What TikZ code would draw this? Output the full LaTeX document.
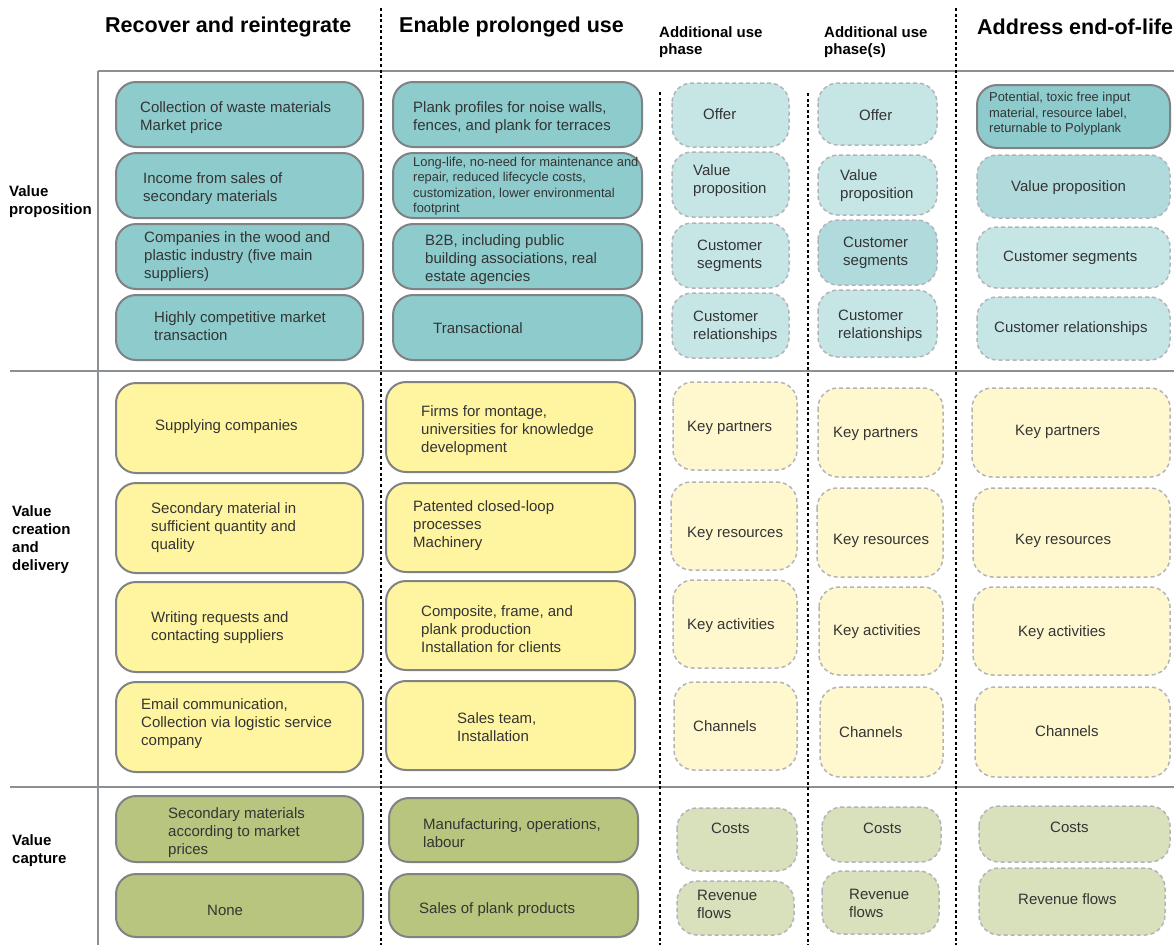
\documentclass[tikz,border=0pt]{standalone}
\usepackage{fontspec}
\setmainfont{Liberation Sans}
\definecolor{tealS}{RGB}{142,203,204}
\definecolor{tealM}{RGB}{176,218,220}
\definecolor{tealL}{RGB}{198,230,230}
\definecolor{yelS}{RGB}{255,245,160}
\definecolor{yelL}{RGB}{255,248,206}
\definecolor{grnS}{RGB}{184,197,126}
\definecolor{grnL}{RGB}{216,224,188}
\definecolor{boxline}{RGB}{128,130,132}
\definecolor{dashline}{RGB}{178,180,186}
\definecolor{ruleline}{RGB}{138,144,148}
\definecolor{txtgray}{RGB}{52,52,52}
\begin{document}
\begin{tikzpicture}[x=1pt,y=1pt]
\tikzstyle{every node}=[inner sep=0pt, anchor=west, align=left, text=txtgray, font=\fontsize{15}{18}\selectfont]
\tikzstyle{solidbox}=[draw=boxline, line width=2pt, rounded corners=20pt]
\tikzstyle{dashbox}=[draw=dashline, line width=1.5pt, dash pattern=on 4pt off 3pt, rounded corners=20pt]
\tikzstyle{gridrule}=[draw=ruleline, line width=2.5pt]
\tikzstyle{divider}=[draw=black, line width=2.6pt, dash pattern=on 3pt off 2.6pt]
\tikzstyle{colhead}=[text=black, font=\fontsize{21.5}{26}\selectfont\bfseries]
\tikzstyle{subhead}=[text=black, font=\fontsize{15}{17}\selectfont\bfseries]
\tikzstyle{rowhead}=[text=black, font=\fontsize{15}{18}\selectfont\bfseries]
\tikzstyle{smalltext}=[font=\fontsize{12.9}{15.5}\selectfont]
\fill [white] (0,0) rectangle (1174,-945);
\useasboundingbox (0,0) rectangle (1174,-945);
\draw [gridrule] (98,-71) -- (1174,-71);
\draw [gridrule] (10,-371) -- (1174,-371);
\draw [gridrule] (10,-787) -- (1174,-787);
\draw [gridrule] (98,-71) -- (98,-945);
\draw [divider] (381,-8) -- (381,-945);
\draw [divider] (956,-8) -- (956,-945);
\draw [divider] (660,-92) -- (660,-945);
\draw [divider] (808,-93) -- (808,-945);
\draw (105,-27) node [colhead] (hrecover) {Recover and reintegrate};
\draw (399,-27) node [colhead] (henable) {Enable prolonged use};
\draw (659,-42) node [subhead] (hphase) {Additional use\\phase};
\draw (824,-42) node [subhead] (hphases) {Additional use\\phase(s)};
\draw (977,-27) node [colhead] (haddress) {Address end-of-life};
\draw (9,-201.5) node [rowhead] (rprop) {Value\\proposition};
\draw (12,-539.5) node [rowhead] (rcreate) {Value\\creation\\and\\delivery};
\draw (12,-851) node [rowhead] (rcapture) {Value\\capture};
\draw [solidbox, fill=tealS] (116,-82) rectangle (363,-147);
\draw [solidbox, fill=tealS] (116,-153) rectangle (363,-218);
\draw [solidbox, fill=tealS] (116,-224) rectangle (363,-289);
\draw [solidbox, fill=tealS] (116,-295) rectangle (363,-360);
\draw (140,-118) node (rOffer) {Collection of waste materials\\Market price};
\draw (143,-188.5) node (rValue) {Income from sales of\\secondary materials};
\draw (144,-257) node (rSegment) {Companies in the wood and\\plastic industry (five main\\suppliers)};
\draw (154,-326.5) node (rRelation) {Highly competitive market\\transaction};
\draw [solidbox, fill=tealS] (393,-82) rectangle (642,-147);
\draw [solidbox, fill=tealS] (393,-153) rectangle (642,-218);
\draw [solidbox, fill=tealS] (393,-224) rectangle (642,-289);
\draw [solidbox, fill=tealS] (393,-295) rectangle (642,-360);
\draw (413,-118) node (eOffer) {Plank profiles for noise walls,\\fences, and plank for terraces};
\draw (413,-186) node [smalltext] (eValue) {Long-life, no-need for maintenance and\\repair, reduced lifecycle costs,\\customization, lower environmental\\footprint};
\draw (425,-260) node (eSegment) {B2B, including public\\building associations, real\\estate agencies};
\draw (433,-328) node (eRelation) {Transactional};
\draw [dashbox, fill=tealL] (672,-83) rectangle (789,-147);
\draw [dashbox, fill=tealL] (672,-152) rectangle (789,-217);
\draw [dashbox, fill=tealL] (672,-223) rectangle (789,-288);
\draw [dashbox, fill=tealL] (672,-293) rectangle (789,-358);
\draw (703,-114) node (aOffer) {Offer};
\draw (693,-181) node (aValue) {Value\\proposition};
\draw (697,-256) node (aSegment) {Customer\\segments};
\draw (693,-327) node (aRelation) {Customer\\relationships};
\draw [dashbox, fill=tealL] (818,-83) rectangle (937,-145);
\draw [dashbox, fill=tealL] (818,-155) rectangle (937,-215);
\draw [dashbox, fill=tealM] (818,-220) rectangle (937,-285);
\draw [dashbox, fill=tealL] (818,-290) rectangle (937,-357);
\draw (859,-115) node (sOffer) {Offer};
\draw (840,-186) node (sValue) {Value\\proposition};
\draw (843,-253) node (sSegment) {Customer\\segments};
\draw (838,-326) node (sRelation) {Customer\\relationships};
\draw [solidbox, fill=tealS] (977,-85) rectangle (1170,-148);
\draw [dashbox, fill=tealM] (977,-155) rectangle (1170,-218);
\draw [dashbox, fill=tealL] (977,-227) rectangle (1170,-288);
\draw [dashbox, fill=tealL] (977,-297) rectangle (1170,-360);
\draw (989,-114) node [smalltext] (lOffer) {Potential, toxic free input\\material, resource label,\\returnable to Polyplank};
\draw (1011,-188) node (lValue) {Value proposition};
\draw (1003,-258) node (lSegment) {Customer segments};
\draw (994,-329) node (lRelation) {Customer relationships};
\draw [solidbox, fill=yelS] (116,-383) rectangle (363,-473);
\draw [solidbox, fill=yelS] (116,-483) rectangle (363,-573);
\draw [solidbox, fill=yelS] (116,-582) rectangle (363,-672);
\draw [solidbox, fill=yelS] (116,-682) rectangle (363,-772);
\draw (155,-427) node (rPartner) {Supplying companies};
\draw (151,-528) node (rResource) {Secondary material in\\sufficient quantity and\\quality};
\draw (151,-628) node (rActivity) {Writing requests and\\contacting suppliers};
\draw (141,-724) node (rChannel) {Email communication,\\Collection via logistic service\\company};
\draw [solidbox, fill=yelS] (386,-382) rectangle (635,-472);
\draw [solidbox, fill=yelS] (386,-483) rectangle (635,-572);
\draw [solidbox, fill=yelS] (386,-581) rectangle (635,-670);
\draw [solidbox, fill=yelS] (386,-681) rectangle (635,-770);
\draw (421,-431) node (ePartner) {Firms for montage,\\universities for knowledge\\development};
\draw (413,-526) node (eResource) {Patented closed-loop\\processes\\Machinery};
\draw (421,-629) node (eActivity) {Composite, frame, and\\plank production\\Installation for clients};
\draw (457,-727) node (eChannel) {Sales team,\\Installation};
\draw [dashbox, fill=yelL] (673,-382) rectangle (797,-470);
\draw [dashbox, fill=yelL] (671,-482) rectangle (797,-570);
\draw [dashbox, fill=yelL] (673,-580) rectangle (797,-668);
\draw [dashbox, fill=yelL] (674,-682) rectangle (797,-770);
\draw (687,-428) node (aPartner) {Key partners};
\draw (687,-534) node (aResource) {Key resources};
\draw (687,-626) node (aActivity) {Key activities};
\draw (693,-726) node (aChannel) {Channels};
\draw [dashbox, fill=yelL] (818,-388) rectangle (943,-477);
\draw [dashbox, fill=yelL] (817,-488) rectangle (943,-577);
\draw [dashbox, fill=yelL] (819,-587) rectangle (943,-675);
\draw [dashbox, fill=yelL] (820,-687) rectangle (943,-777);
\draw (833,-434) node (sPartner) {Key partners};
\draw (833,-541) node (sResource) {Key resources};
\draw (833,-632) node (sActivity) {Key activities};
\draw (839,-732) node (sChannel) {Channels};
\draw [dashbox, fill=yelL] (972,-388) rectangle (1170,-477);
\draw [dashbox, fill=yelL] (973,-488) rectangle (1170,-577);
\draw [dashbox, fill=yelL] (973,-587) rectangle (1170,-675);
\draw [dashbox, fill=yelL] (975,-687) rectangle (1170,-777);
\draw (1015,-432) node (lPartner) {Key partners};
\draw (1015,-541) node (lResource) {Key resources};
\draw (1018,-633) node (lActivity) {Key activities};
\draw (1035,-731) node (lChannel) {Channels};
\draw [solidbox, fill=grnS] (116,-796) rectangle (363,-862);
\draw [solidbox, fill=grnS] (116,-874) rectangle (363,-937);
\draw (168,-833) node (rCost) {Secondary materials\\according to market\\prices};
\draw (207,-910) node (rRevenue) {None};
\draw [solidbox, fill=grnS] (389,-798) rectangle (638,-862);
\draw [solidbox, fill=grnS] (389,-874) rectangle (638,-937);
\draw (423,-833) node (eCost) {Manufacturing, operations,\\labour};
\draw (419,-910) node (eRevenue) {Sales of plank products};
\draw [dashbox, fill=grnL] (677,-808) rectangle (797,-871);
\draw [dashbox, fill=grnL] (677,-881) rectangle (794,-935);
\draw (711,-828) node (aCost) {Costs};
\draw (697,-904) node (aRevenue) {Revenue\\flows};
\draw [dashbox, fill=grnL] (822,-807) rectangle (941,-862);
\draw [dashbox, fill=grnL] (822,-871) rectangle (939,-934);
\draw (863,-828) node (sCost) {Costs};
\draw (849,-903) node (sRevenue) {Revenue\\flows};
\draw [dashbox, fill=grnL] (979,-806) rectangle (1170,-862);
\draw [dashbox, fill=grnL] (979,-868) rectangle (1165,-935);
\draw (1050,-827) node (lCost) {Costs};
\draw (1018,-899) node (lRevenue) {Revenue flows};
\end{tikzpicture}
\end{document}
